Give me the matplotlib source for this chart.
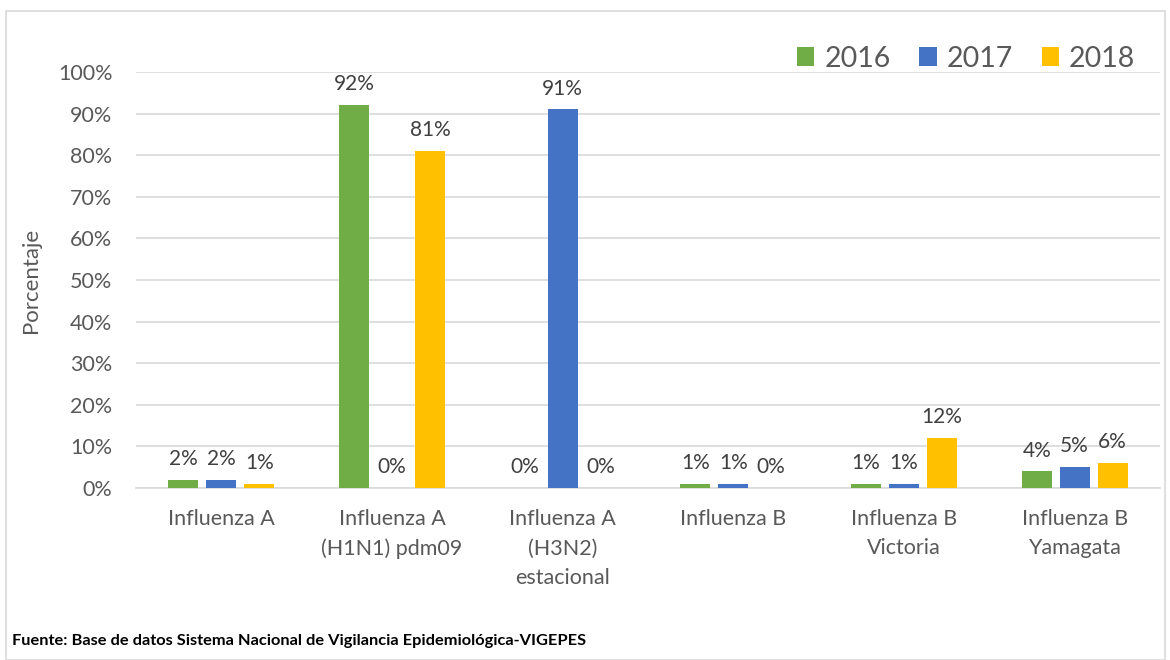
import matplotlib.pyplot as plt
from matplotlib.patches import Rectangle
import numpy as np

plt.rcParams['font.family'] = ['Lato', 'DejaVu Sans']

categories = ['Influenza A', 'Influenza A\n(H1N1) pdm09', 'Influenza A\n(H3N2)\nestacional',
              'Influenza B', 'Influenza B\nVictoria', 'Influenza B\nYamagata']
years = ['2016', '2017', '2018']
v2016 = [2, 92, 0, 1, 1, 4]
v2017 = [2, 0, 91, 1, 1, 5]
v2018 = [1, 81, 0, 0, 12, 6]
colors = ['#70AD47', '#4472C4', '#FFC000']

W, H = 1170, 660
fig = plt.figure(figsize=(W / 100, H / 100), dpi=100)

# outer frame
fig.patches.append(Rectangle((6 / W, 0), (1165 - 6) / W, (H - 11) / H, transform=fig.transFigure,
                             fill=False, edgecolor='#D9D9D9', linewidth=1.2))

ax = fig.add_axes([136 / W, (H - 488) / H, (1160 - 136) / W, (488 - 72) / H])

x = np.arange(len(categories))
width = 0.176
offset = 0.222
txt = '#404040'
for i, (vals, lab, c) in enumerate(zip([v2016, v2017, v2018], years, colors)):
    pos = x + (i - 1) * offset
    ax.bar(pos, vals, width, color=c, label=lab, zorder=3)
    for p, v in zip(pos, vals):
        ax.text(p, v + 2.6, f'{v}%', ha='center', va='bottom', fontsize=15, color=txt)

ax.set_xlim(-0.5, len(categories) - 0.5)
ax.set_ylim(0, 100)
ax.set_yticks(np.arange(0, 101, 10))
ax.set_yticklabels([f'{t}%' for t in range(0, 101, 10)])
ax.yaxis.grid(True, color='#D9D9D9', linewidth=1.2, zorder=0)
ax.set_xticks(x)
ax.set_xticklabels(categories, linespacing=1.6)
ax.tick_params(axis='both', length=0, labelsize=15.5, labelcolor='#595959')
ax.tick_params(axis='x', pad=15)
ax.tick_params(axis='y', pad=17)
for s in ['top', 'right', 'left']:
    ax.spines[s].set_visible(False)
ax.spines['bottom'].set_color('#D9D9D9')
ax.spines['bottom'].set_linewidth(1.2)
ax.set_ylabel('Porcentaje', fontsize=16, color='#595959', labelpad=12)

fig.legend(loc='upper right', bbox_to_anchor=(1161 / W, 1 - 20 / H), ncol=3, frameon=False,
           fontsize=20.5, handlelength=0.62, handleheight=0.62, handletextpad=0.35,
           columnspacing=1.0, labelcolor='#595959')

fig.text(12 / W, 1 - 641 / H, 'Fuente: Base de datos Sistema Nacional de Vigilancia Epidemiológica-VIGEPES',
         fontsize=11.8, fontweight='bold', color='black', va='center')

fig.savefig('out.png', dpi=100)
